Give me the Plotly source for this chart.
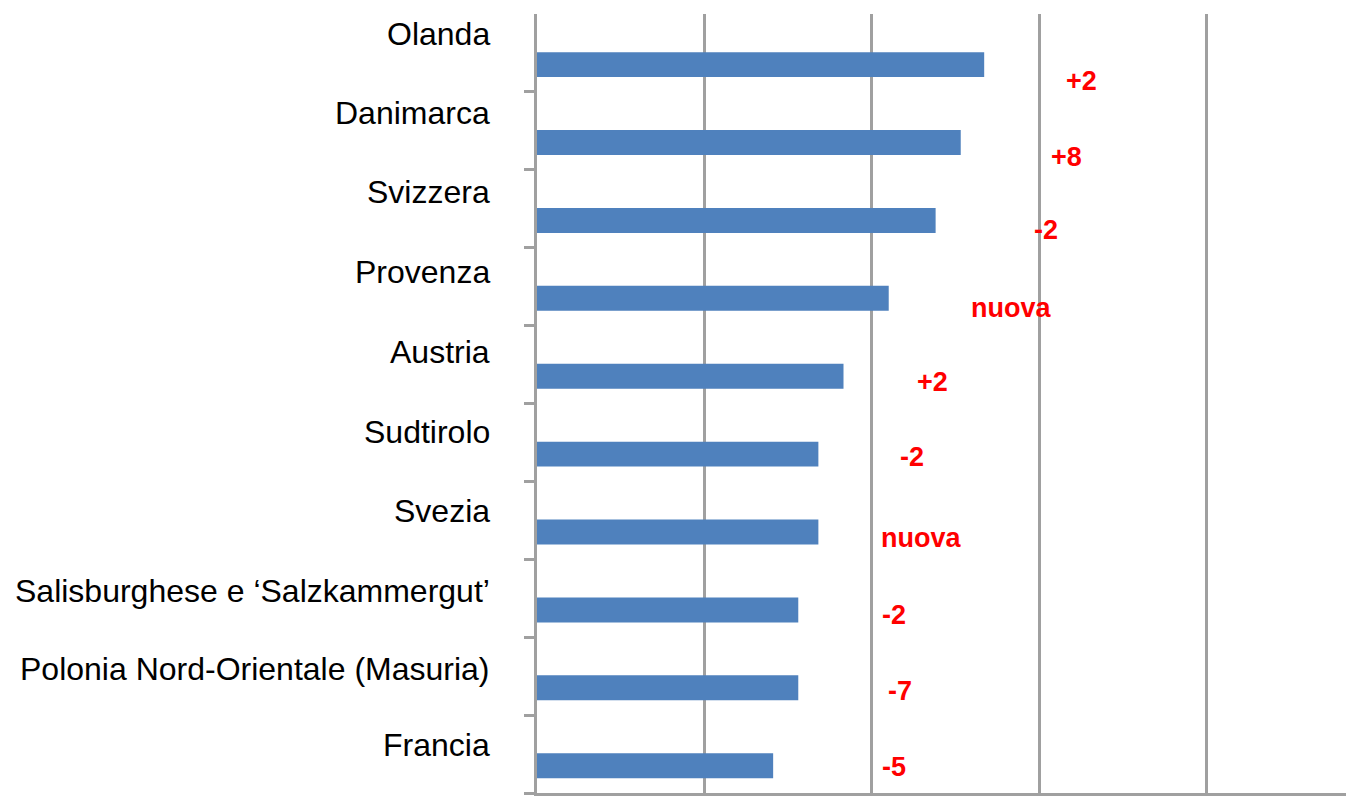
import plotly.graph_objects as go

categories = ["Olanda", "Danimarca", "Svizzera", "Provenza", "Austria", "Sudtirolo",
              "Svezia", "Salisburghese e \u2018Salzkammergut\u2019",
              "Polonia Nord-Orientale (Masuria)", "Francia"]
values = [2.67, 2.53, 2.38, 2.10, 1.83, 1.68, 1.68, 1.56, 1.56, 1.41]
changes = ["+2", "+8", "-2", "nuova", "+2", "-2", "nuova", "-2", "-7", "-5"]

# annotation placement (layout, not data)
change_x = [3.25, 3.16, 3.04, 2.83, 2.36, 2.24, 2.29, 2.13, 2.17, 2.13]
change_dy = [0.36, 0.33, 0.27, 0.27, 0.23, 0.19, 0.23, 0.21, 0.19, 0.17]
label_shift = [19, 18, 17, 15, 13, 10, 9, 7, 7, 9]

pos = list(range(len(categories)))
FONT = "Liberation Sans, Arial, sans-serif"

fig = go.Figure()
fig.add_trace(go.Bar(
    x=values, y=pos, orientation="h",
    width=0.32, offset=-0.01,
    marker=dict(color="#4f81bd", line=dict(width=0)),
    hoverinfo="skip",
))

annotations = []
for i, name in enumerate(categories):
    annotations.append(dict(
        x=0, y=i, xref="x", yref="y", text=name, showarrow=False,
        xanchor="right", yanchor="middle", xshift=-45, yshift=label_shift[i],
        font=dict(family=FONT, size=32, color="#000000"),
    ))
for i, ch in enumerate(changes):
    annotations.append(dict(
        x=change_x[i], y=i + change_dy[i], xref="x", yref="y", text="<b>%s</b>" % ch,
        showarrow=False, xanchor="center", yanchor="middle",
        font=dict(family=FONT, size=27, color="#ff0000"),
    ))

fig.update_layout(
    width=1347, height=789,
    margin=dict(l=529, r=0, t=6, b=4),
    paper_bgcolor="white", plot_bgcolor="white",
    showlegend=False,
    annotations=annotations,
    xaxis=dict(range=[0, 4.884], dtick=1, tick0=0, showgrid=True,
               gridcolor="#a0a0a0", gridwidth=2.5, showticklabels=False,
               showline=True, linecolor="#a0a0a0", linewidth=2.5,
               ticks="outside", ticklen=4, tickcolor="#a0a0a0", tickwidth=2.5,
               zeroline=False, fixedrange=True),
    yaxis=dict(range=[len(categories) - 0.5, -0.5],
               tickvals=[p + 0.5 for p in pos], showticklabels=False,
               ticks="outside", ticklen=10, tickcolor="#a0a0a0", tickwidth=2.5,
               showgrid=False, showline=True, linecolor="#a0a0a0", linewidth=2.5,
               zeroline=False, fixedrange=True),
)

fig.write_html("out.html")
